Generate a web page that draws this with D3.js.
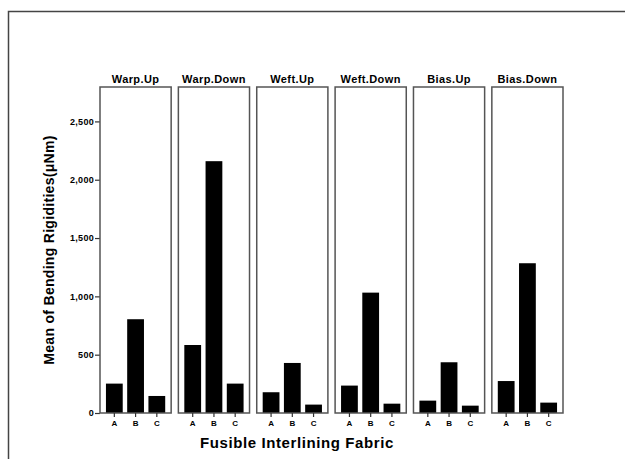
<!DOCTYPE html>
<html><head><meta charset="utf-8">
<script src="https://cdn.jsdelivr.net/npm/d3@7/dist/d3.min.js"></script>
<style>body{margin:0;background:#fff}svg{display:block}text{font-family:"Liberation Sans",Arial,sans-serif;font-weight:bold;fill:#000}</style>
</head><body>
<svg id="c" width="625" height="459"></svg>
<script>
const panels = ["Warp.Up","Warp.Down","Weft.Up","Weft.Down","Bias.Up","Bias.Down"];
const fabrics = ["A","B","C"];
const valuesA = [252, 583, 178, 235, 106, 274];
const valuesB = [804, 2159, 429, 1032, 435, 1284];
const valuesC = [146, 252, 72, 80, 63, 89];
const yTicks = [0, 500, 1000, 1500, 2000, 2500];

(function(){
const svg = d3.select("#c");
svg.append("path").attr("d","M8.5,459 L8.5,11.5 L625,11.5").attr("fill","none").attr("stroke","#444").attr("stroke-width",1.5);

const pLeft = 100, pRight = 563, pTop = 87, pBottom = 413;
const px = d3.scaleBand().domain(panels).range([pLeft, pRight]).paddingInner(0.092).paddingOuter(0);
const y = d3.scaleLinear().domain([0, 2795]).range([pBottom, pTop]);

const data = panels.map((p,i)=>({panel:p, vals:[valuesA[i],valuesB[i],valuesC[i]]}));

const yAxis = d3.axisLeft(y).tickValues(yTicks).tickSize(5).tickFormat(d3.format(",")).tickPadding(1);
const ya = svg.append("g").attr("transform",`translate(${pLeft},0)`).call(yAxis);
ya.select(".domain").remove();
ya.selectAll("line").attr("stroke","#333").attr("stroke-width",1.2);
ya.selectAll("text").style("font-size","9px").style("letter-spacing","0.3px").attr("fill","#222");

data.forEach(d=>{
  const g = svg.append("g").attr("transform",`translate(${px(d.panel)},0)`);
  const w = px.bandwidth();
  const xb = d3.scaleBand().domain(fabrics).range([0,w]).paddingInner(0.21).paddingOuter(0.28);
  g.selectAll("rect.bar").data(d.vals).join("rect").attr("class","bar")
    .attr("x",(v,i)=>xb(fabrics[i])).attr("width",xb.bandwidth())
    .attr("y",v=>y(v)).attr("height",v=>pBottom-y(v)).attr("fill","#000");
  g.append("rect").attr("x",0).attr("y",pTop).attr("width",w).attr("height",pBottom-pTop)
    .attr("fill","none").attr("stroke","#555").attr("stroke-width",1.5);
  const xa = g.append("g").attr("transform",`translate(0,${pBottom})`)
    .call(d3.axisBottom(xb).tickSize(4).tickPadding(3));
  xa.select(".domain").remove();
  xa.selectAll("line").attr("stroke","#333").attr("stroke-width",1.2);
  xa.selectAll("text").style("font-size","8px").attr("fill","#222");
  g.append("text").attr("x",w/2).attr("y",pTop-4).attr("text-anchor","middle")
    .style("font-size","11px").style("letter-spacing","0.4px").text(d.panel);
});

svg.append("text").attr("x",297).attr("y",448).attr("text-anchor","middle")
  .style("font-size","15px").style("letter-spacing","0.6px").text("Fusible Interlining Fabric");
svg.append("text").attr("transform","translate(54,250) rotate(-90)").attr("text-anchor","middle")
  .style("font-size","14px").style("letter-spacing","0.3px").text("Mean of Bending Rigidities(μNm)");
})();
</script>
</body></html>
